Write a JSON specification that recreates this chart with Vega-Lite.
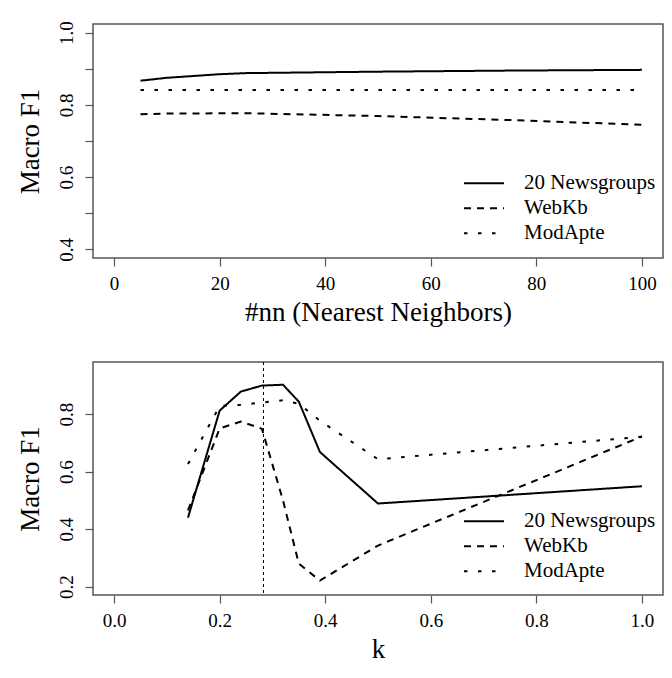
{
  "$schema": "https://vega.github.io/schema/vega-lite/v6.json",
  "padding": {"left": 15, "top": 20, "right": 5, "bottom": 5},
  "spacing": 34,
  "resolve": {"legend": {"strokeDash": "independent", "strokeWidth": "independent"}, "scale": {"strokeDash": "independent", "strokeWidth": "independent"}},
  "config": {
    "font": "Liberation Serif",
    "view": {"stroke": "#555", "strokeWidth": 1.5},
    "axis": {"grid": false, "domain": false, "tickColor": "#555", "tickSize": 8, "tickWidth": 1.2,
      "labelFont": "Liberation Serif", "labelFontSize": 19, "labelColor": "#000",
      "titleFont": "Liberation Serif", "titleFontSize": 27, "titleFontWeight": "normal", "titleColor": "#000"},
    "axisX": {"labelPadding": 8, "titlePadding": 6},
    "axisY": {"labelAngle": -90, "labelAlign": "center", "labelBaseline": "bottom", "labelPadding": 9, "titlePadding": 13},
    "legend": {"orient": "none", "legendX": 370, "legendY": 147, "padding": 0, "labelFont": "Liberation Serif", "labelFontSize": 21,
      "labelColor": "#000", "symbolType": "stroke", "symbolSize": 1600, "symbolStrokeColor": "#000",
      "labelOffset": 19, "rowPadding": 0, "clipHeight": 24.5}
  },
  "datasets": {
    "nn": [
      {"nn": 5, "f1": 0.867, "dataset": "20 Newsgroups"},
      {"nn": 10, "f1": 0.875, "dataset": "20 Newsgroups"},
      {"nn": 15, "f1": 0.880, "dataset": "20 Newsgroups"},
      {"nn": 20, "f1": 0.885, "dataset": "20 Newsgroups"},
      {"nn": 25, "f1": 0.888, "dataset": "20 Newsgroups"},
      {"nn": 50, "f1": 0.892, "dataset": "20 Newsgroups"},
      {"nn": 75, "f1": 0.895, "dataset": "20 Newsgroups"},
      {"nn": 100, "f1": 0.897, "dataset": "20 Newsgroups"},
      {"nn": 5, "f1": 0.774, "dataset": "WebKb"},
      {"nn": 10, "f1": 0.776, "dataset": "WebKb"},
      {"nn": 25, "f1": 0.777, "dataset": "WebKb"},
      {"nn": 50, "f1": 0.769, "dataset": "WebKb"},
      {"nn": 75, "f1": 0.758, "dataset": "WebKb"},
      {"nn": 100, "f1": 0.745, "dataset": "WebKb"},
      {"nn": 5, "f1": 0.841, "dataset": "ModApte"},
      {"nn": 25, "f1": 0.841, "dataset": "ModApte"},
      {"nn": 50, "f1": 0.841, "dataset": "ModApte"},
      {"nn": 75, "f1": 0.841, "dataset": "ModApte"},
      {"nn": 100, "f1": 0.841, "dataset": "ModApte"}
    ],
    "k": [
      {"k": 0.14, "f1": 0.44, "dataset": "20 Newsgroups"},
      {"k": 0.2, "f1": 0.812, "dataset": "20 Newsgroups"},
      {"k": 0.24, "f1": 0.878, "dataset": "20 Newsgroups"},
      {"k": 0.28, "f1": 0.899, "dataset": "20 Newsgroups"},
      {"k": 0.32, "f1": 0.902, "dataset": "20 Newsgroups"},
      {"k": 0.35, "f1": 0.843, "dataset": "20 Newsgroups"},
      {"k": 0.39, "f1": 0.668, "dataset": "20 Newsgroups"},
      {"k": 0.5, "f1": 0.489, "dataset": "20 Newsgroups"},
      {"k": 1.0, "f1": 0.549, "dataset": "20 Newsgroups"},
      {"k": 0.14, "f1": 0.465, "dataset": "WebKb"},
      {"k": 0.2, "f1": 0.75, "dataset": "WebKb"},
      {"k": 0.24, "f1": 0.774, "dataset": "WebKb"},
      {"k": 0.28, "f1": 0.749, "dataset": "WebKb"},
      {"k": 0.32, "f1": 0.5, "dataset": "WebKb"},
      {"k": 0.35, "f1": 0.28, "dataset": "WebKb"},
      {"k": 0.39, "f1": 0.221, "dataset": "WebKb"},
      {"k": 0.5, "f1": 0.343, "dataset": "WebKb"},
      {"k": 1.0, "f1": 0.722, "dataset": "WebKb"},
      {"k": 0.14, "f1": 0.626, "dataset": "ModApte"},
      {"k": 0.2, "f1": 0.828, "dataset": "ModApte"},
      {"k": 0.24, "f1": 0.832, "dataset": "ModApte"},
      {"k": 0.28, "f1": 0.84, "dataset": "ModApte"},
      {"k": 0.32, "f1": 0.848, "dataset": "ModApte"},
      {"k": 0.35, "f1": 0.836, "dataset": "ModApte"},
      {"k": 0.39, "f1": 0.777, "dataset": "ModApte"},
      {"k": 0.5, "f1": 0.643, "dataset": "ModApte"},
      {"k": 1.0, "f1": 0.721, "dataset": "ModApte"}
    ],
    "vline": [{"k": 0.283}]
  },
  "vconcat": [
    {
      "width": 570,
      "height": 234,
      "data": {"name": "nn"},
      "mark": {"type": "line", "color": "#000", "clip": true},
      "encoding": {
        "x": {"field": "nn", "type": "quantitative", "title": "#nn (Nearest Neighbors)",
          "scale": {"domain": [-4, 104], "nice": false, "zero": false},
          "axis": {"values": [0, 20, 40, 60, 80, 100]}},
        "y": {"field": "f1", "type": "quantitative", "title": "Macro F1",
          "scale": {"domain": [0.376, 1.024], "nice": false, "zero": false},
          "axis": {"values": [0.4, 0.5, 0.6, 0.7, 0.8, 0.9, 1.0], "format": ".1f",
            "labelExpr": "indexof(['0.4','0.6','0.8','1.0'], datum.label) >= 0 ? datum.label : ''"}},
        "strokeDash": {"field": "dataset", "type": "nominal", "title": null,
          "scale": {"domain": ["20 Newsgroups", "WebKb", "ModApte"], "range": [[1, 0], [7, 6], [3.5, 10.5]]}},
        "strokeWidth": {"field": "dataset", "type": "nominal", "title": null,
          "scale": {"domain": ["20 Newsgroups", "WebKb", "ModApte"], "range": [2, 2, 3.5]}}
      }
    },
    {
      "width": 570,
      "height": 233,
      "layer": [
        {
          "data": {"name": "k"},
          "mark": {"type": "line", "color": "#000", "clip": true},
          "encoding": {
            "x": {"field": "k", "type": "quantitative", "title": "k",
              "scale": {"domain": [-0.04, 1.04], "nice": false, "zero": false},
              "axis": {"values": [0, 0.2, 0.4, 0.6, 0.8, 1.0], "format": ".1f"}},
            "y": {"field": "f1", "type": "quantitative", "title": "Macro F1",
              "scale": {"domain": [0.171, 0.981], "nice": false, "zero": false},
              "axis": {"values": [0.2, 0.4, 0.6, 0.8], "format": ".1f"}},
            "strokeDash": {"field": "dataset", "type": "nominal", "title": null,
              "scale": {"domain": ["20 Newsgroups", "WebKb", "ModApte"], "range": [[1, 0], [7, 6], [3.5, 10.5]]}},
            "strokeWidth": {"field": "dataset", "type": "nominal", "title": null,
              "scale": {"domain": ["20 Newsgroups", "WebKb", "ModApte"], "range": [2, 2, 3.5]}}
          }
        },
        {
          "data": {"name": "vline"},
          "mark": {"type": "rule", "color": "#000", "strokeWidth": 1, "strokeDash": [3, 3]},
          "encoding": {"x": {"field": "k", "type": "quantitative"}}
        }
      ]
    }
  ]
}
